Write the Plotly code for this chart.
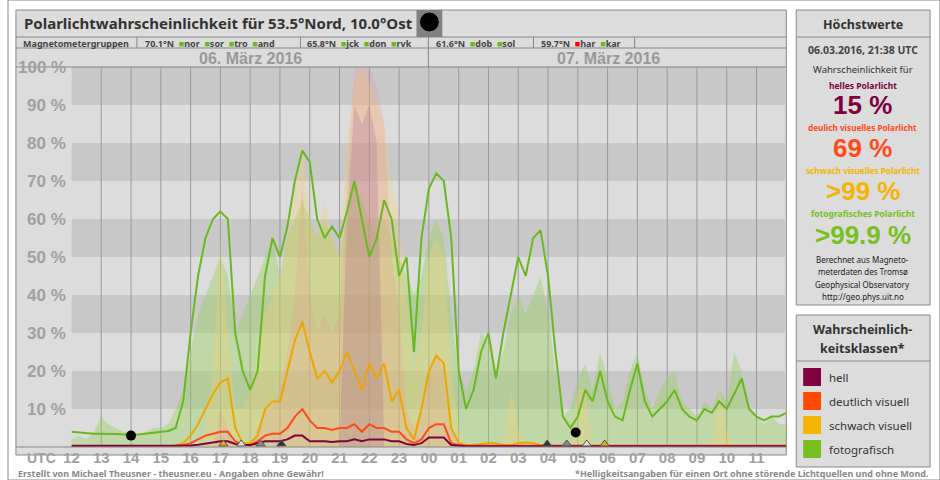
import plotly.graph_objects as go

step = 0.25
hours = [12 + step * i for i in range(97)]

green_line = [4,3.8,3.6,3.5,3.5,3.5,3.4,3.3,3.2,3.3,3.5,3.8,4,4.2,
    5,12,30,45,55,60,62,60,30,20,15,20,45,55,50,58,70,78,75,60,55,58,55,62,70,60,50,55,65,60,45,50,25,55,68,72,70,55,
    20,10,15,25,30,18,30,40,50,45,55,57,45,25,8,5,8,15,12,20,12,8,7,15,22,12,8,10,12,15,10,8,7,10,9,12,10,14,18,10,8,7,8,8,9]
orange_line = [0]*14 + [0.5,1,3,6,10,14,17,18,5,1,1,3,10,12,12,20,28,33,25,18,20,17,20,25,20,15,22,18,22,12,15,5,2,10,20,24,22,5,1] + \
    [0.5,0.5,0.8,1,1,0.5,0.5,1,1.2,1,0.5,0.5] + [0.3]*32
red_line = [0.2]*14 + [0.3,0.5,1,2,3,3.5,4,4,1.5,0.5,0.5,1.5,3,3.5,3.5,5,8,10,7,5,5,4.5,5,5,6,4,6,5,5,4,4,2,1,2,5,6,6,1,0.5] + [0.3]*44
purple_line = [0.3]*14 + [0.3,0.3,0.4,0.6,1,1.2,1.5,1.5,0.8,0.5,0.5,1,1.5,1.5,1.5,2,3,3,1.5,1.5,1.5,1.3,1.5,1.5,2,1.5,2,2,2,1.5,1.5,0.8,0.5,1,2.5,2.5,2.5,0.5,0.3] + [0.2]*44

fill_green = [2,3,2,4,8,6,5,4,4,3,4,5,5,6,
    10,15,25,35,40,45,50,45,30,35,40,45,50,55,45,55,60,65,60,55,60,55,50,60,70,65,60,55,60,55,50,45,40,45,55,60,55,35,
    20,15,20,30,28,20,25,35,40,35,40,45,35,20,8,10,18,22,15,25,18,10,12,20,25,15,10,15,18,20,12,10,8,12,10,15,12,25,20,10,8,6,8,6,6]
fill_yellow = [0]*18 + [5,20,55,30,10,10,15,25,35,40,45,55,70,80,60,55,65,55,50,80,95,100,95,90,85,70,60,40,20,30,50,55,50,20,5] + \
    [0,0,0,0,0,0,15,5,0,0,0,0,0,0,0,15,15,0,0,0,0,0,0,0,0,0,0,0,0,0,0,0,0,0,15,5,0,0,0,0,0,0,0,0]
fill_pink = [0]*18 + [0,0,10,5,0,0,0,5,10,10,15,25,40,70,40,30,35,30,35,70,100,100,100,95,85,50,35,10,5,10,20,25,20,5,0] + [0]*44
fill_purple = [0]*37 + [60,90,85,90,80] + [0]*55

tick_vals = list(range(12, 36))
tick_text = [f"{h % 24:02d}" for h in tick_vals]
y_vals = [10,20,30,40,50,60,70,80,90,100]

marker_day1 = [17.1, 17.7, 18.35, 19.05]
marker_day2 = [27.97, 28.63, 29.3, 29.9]
marker_colors1 = ["#f0a800", "#dddddd", "#888888", "#333333"]
marker_colors2 = ["#333333", "#888888", "#dddddd", "#f0a800"]

W, H = 940, 480
def px(x): return x / W
def py(y): return 1 - y / H

FONT = "Noto Sans"
fig = go.Figure()
for ys, col in [(fill_green, "rgba(150,210,90,0.4)"), (fill_yellow, "rgba(250,210,110,0.3)"),
                (fill_pink, "rgba(240,140,140,0.22)"), (fill_purple, "rgba(150,80,150,0.2)")]:
    fig.add_trace(go.Scatter(x=hours, y=ys, mode="lines", line=dict(width=0), fill="tozeroy",
                             fillcolor=col, hoverinfo="skip", showlegend=False))
for ys, col in [(green_line, "#6ab820"), (orange_line, "#eea500"), (red_line, "#ff4a1a"), (purple_line, "#800040")]:
    fig.add_trace(go.Scatter(x=hours, y=ys, mode="lines", line=dict(color=col, width=2), showlegend=False))

fig.add_trace(go.Scatter(x=[14, 28.93], y=[3, 3.8], mode="markers",
                         marker=dict(color="black", size=10), showlegend=False))
fig.add_trace(go.Scatter(x=marker_day1 + marker_day2, y=[100.8]*8, mode="markers",
                         marker=dict(symbol="triangle-down", size=8, color=marker_colors1 + marker_colors2,
                                     line=dict(color="#555", width=1)), cliponaxis=False, showlegend=False))
fig.add_trace(go.Scatter(x=marker_day1 + marker_day2, y=[0.8]*8, mode="markers",
                         marker=dict(symbol="triangle-up", size=8, color=marker_colors1 + marker_colors2,
                                     line=dict(color="#555", width=1)), cliponaxis=False, showlegend=False))

shapes = []
shapes.append(dict(type="rect", xref="paper", yref="paper", x0=0, x1=1, y0=0, y1=1,
                   fillcolor="white", line=dict(color="#888", width=1), layer="below"))
shapes.append(dict(type="rect", xref="paper", yref="paper", x0=px(8), x1=px(785), y0=py(455), y1=py(10),
                   fillcolor="#dcdcdc", line=dict(color="#888", width=1), layer="below"))
for y in [37, 48, 67]:
    shapes.append(dict(type="line", xref="paper", yref="paper", x0=px(8), x1=px(785), y0=py(y), y1=py(y),
                       line=dict(color="#888", width=1)))
shapes.append(dict(type="rect", xref="paper", yref="paper", x0=px(412), x1=px(438), y0=py(37), y1=py(10),
                   fillcolor="#808080", line=dict(width=0)))
shapes.append(dict(type="circle", xref="paper", yref="paper", x0=px(415), x1=px(435), y0=py(32), y1=py(12),
                   fillcolor="black", line=dict(color="#888", width=1)))
for xs in [130, 295, 424, 530, 632]:
    shapes.append(dict(type="line", xref="paper", yref="paper", x0=px(xs), x1=px(xs), y0=py(48), y1=py(37),
                       line=dict(color="#888", width=1)))
shapes.append(dict(type="line", xref="paper", yref="paper", x0=px(424), x1=px(424), y0=py(67), y1=py(48),
                   line=dict(color="#888", width=1)))
for lo in range(10, 100, 20):
    shapes.append(dict(type="rect", xref="x", yref="y", x0=12, x1=36, y0=lo, y1=lo + 10,
                       fillcolor="#c8c8c8", line=dict(width=0), layer="below"))
for h in tick_vals[1:]:
    shapes.append(dict(type="line", xref="x", yref="y", x0=h, x1=h, y0=0, y1=100,
                       line=dict(color="#999", width=1), layer="below"))
shapes.append(dict(type="line", xref="paper", yref="paper", x0=px(8), x1=px(785), y0=py(447), y1=py(447),
                   line=dict(color="#888", width=1)))
shapes.append(dict(type="rect", xref="paper", yref="paper", x0=px(795), x1=px(930), y0=py(305), y1=py(10),
                   fillcolor="#dcdcdc", line=dict(color="#888", width=1), layer="below"))
shapes.append(dict(type="line", xref="paper", yref="paper", x0=px(795), x1=px(930), y0=py(37), y1=py(37),
                   line=dict(color="#888", width=1)))
shapes.append(dict(type="rect", xref="paper", yref="paper", x0=px(795), x1=px(930), y0=py(467), y1=py(315),
                   fillcolor="#dcdcdc", line=dict(color="#888", width=1), layer="below"))
shapes.append(dict(type="line", xref="paper", yref="paper", x0=px(795), x1=px(930), y0=py(361), y1=py(361),
                   line=dict(color="#888", width=1)))
legend_items = [("hell", "#800040"), ("deutlich visuell", "#ff4a00"), ("schwach visuell", "#f5b400"), ("fotografisch", "#78c020")]
for i, (lab, col) in enumerate(legend_items):
    yc = 377 + i * 24
    shapes.append(dict(type="rect", xref="paper", yref="paper", x0=px(802), x1=px(820), y0=py(yc + 9), y1=py(yc - 9),
                       fillcolor=col, line=dict(width=0)))

ann = []
def A(x, y, t, size=11, color="#333", bold=False, xanchor="left", family=FONT):
    ann.append(dict(xref="paper", yref="paper", x=px(x), y=py(y), text=t, showarrow=False,
                    xanchor=xanchor, yanchor="middle",
                    font=dict(size=size, color=color, family=family, weight="bold" if bold else "normal")))

A(14, 23, "Polarlichtwahrscheinlichkeit für 53.5°Nord, 10.0°Ost", 15, "#333", True)
A(13, 43, "Magnetometergruppen", 9, "#444", True)
g = "<span style='color:#6ab820'>■</span>"
r = "<span style='color:red'>■</span>"
groups = [(136, f"70.1°N  {g}nor  {g}sor  {g}tro  {g}and"),
          (300, f"65.8°N  {g}jck  {g}don  {g}rvk"),
          (430, f"61.6°N  {g}dob  {g}sol"),
          (536, f"59.7°N  {r}har  {g}kar")]
for x, t in groups:
    A(x, 43, t, 9, "#444", True)
A(245, 58, "06. März 2016", 16, "#999", True, "center", "Liberation Sans")
A(606, 58, "07. März 2016", 16, "#999", True, "center", "Liberation Sans")
for v in y_vals:
    ann.append(dict(xref="paper", yref="y", x=px(61), y=v, text=f"{v} %", showarrow=False, xanchor="right",
                    yanchor="middle", font=dict(size=17, color="#a0a0a0", family="Liberation Sans", weight="bold")))
A(17, 458, "UTC", 14, "#a0a0a0", True, "left", "Liberation Sans")
A(8, 473, "Erstellt von Michael Theusner - theusner.eu - Angaben ohne Gewähr!", 9, "#888", True)
A(931, 473, "*Helligkeitsangaben für einen Ort ohne störende Lichtquellen und ohne Mond.", 9, "#888", True, "right")

cx = 862
A(cx, 24, "Höchstwerte", 12.5, "#333", True, "center")
A(cx, 50, "06.03.2016, 21:38 UTC", 10.5, "#444", True, "center")
A(cx, 69, "Wahrscheinlichkeit für", 9.5, "#333", False, "center")
A(cx, 85, "helles Polarlicht", 8.5, "#800040", True, "center")
A(cx, 105, "15 %", 26, "#800040", True, "center", "Liberation Sans")
A(cx, 128, "deulich visuelles Polarlicht", 8.2, "#ff4a1a", True, "center")
A(cx, 148, "69 %", 26, "#ff4a1a", True, "center", "Liberation Sans")
A(cx, 171, "schwach visuelles Polarlicht", 8.2, "#f5b400", True, "center")
A(cx, 191, ">99 %", 26, "#f5b400", True, "center", "Liberation Sans")
A(cx, 213, "fotografisches Polarlicht", 8.5, "#78c020", True, "center")
A(cx, 235, ">99.9 %", 26, "#78c020", True, "center", "Liberation Sans")
for i, t in enumerate(["Berechnet aus Magneto-", "meterdaten des Tromsø", "Geophysical Observatory", "http://geo.phys.uit.no"]):
    A(cx, 259 + i * 12.5, t, 8, "#222", False, "center")
A(cx, 329, "Wahrscheinlich-", 12.5, "#333", True, "center")
A(cx, 348, "keitsklassen*", 12.5, "#333", True, "center")
for i, (lab, col) in enumerate(legend_items):
    A(826, 377 + i * 24, lab, 11.5, "#333", False)

fig.update_layout(
    width=W, height=H, margin=dict(l=0, r=0, t=0, b=0),
    paper_bgcolor="white", plot_bgcolor="#dcdcdc",
    shapes=shapes, annotations=ann,
    xaxis=dict(domain=[px(64), px(785)], range=[12, 36], tickvals=tick_vals, ticktext=tick_text,
               showgrid=False, zeroline=False, ticks="", ticklen=0,
               tickfont=dict(size=15, color="#a0a0a0", family="Liberation Sans", weight="bold")),
    yaxis=dict(domain=[py(447), py(67)], range=[0, 100], showgrid=False, zeroline=False, showticklabels=False),
)
fig.write_html("out.html", config={"displayModeBar": False},
               post_script="document.body.style.margin='0';document.body.style.overflow='hidden';")
